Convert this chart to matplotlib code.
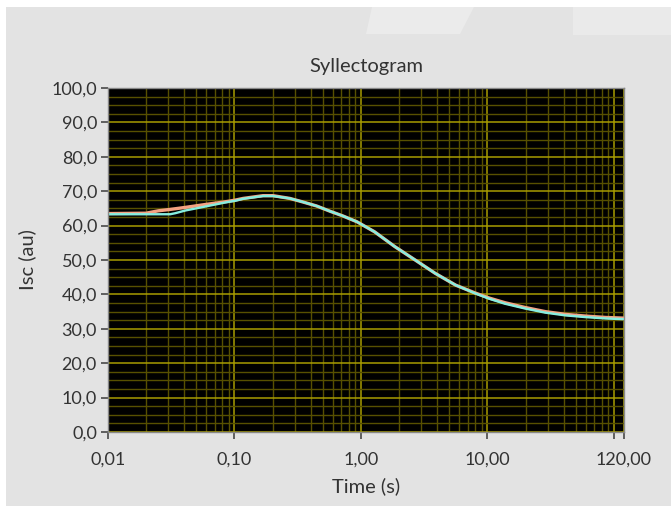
import numpy as np
import matplotlib
matplotlib.use('Agg')
import matplotlib.pyplot as plt
from matplotlib.ticker import FixedLocator, FixedFormatter, LogLocator, MultipleLocator
from matplotlib.patches import Rectangle, Polygon

plt.rcParams['font.family'] = ['Lato', 'DejaVu Sans']

# values
time_s = [0.01, 0.02, 0.025, 0.031, 0.034, 0.041, 0.058, 0.084, 0.101, 0.117,
          0.168, 0.202, 0.274, 0.345, 0.446, 0.567, 0.72, 0.93, 1.28, 1.85,
          2.68, 3.87, 5.6, 8.0, 10.4, 13.7, 19.8, 28.6, 41.3, 59.7, 86.2, 120.0]
isc_orange = [63.5, 63.6, 64.3, 64.7, 64.9, 65.3, 66.1, 66.9, 67.4, 67.9,
              68.7, 68.7, 67.9, 66.9, 65.7, 64.2, 62.8, 61.1, 58.2, 53.9,
              50.0, 46.1, 42.7, 40.4, 38.9, 37.6, 36.2, 35.0, 34.2, 33.7, 33.3, 33.1]
isc_cyan = [63.3, 63.3, 63.3, 63.3, 63.6, 64.4, 65.5, 66.7, 67.2, 67.8,
            68.6, 68.6, 67.9, 66.9, 65.7, 64.2, 62.8, 61.1, 58.2, 53.9,
            50.0, 46.1, 42.7, 40.3, 38.7, 37.3, 35.9, 34.7, 33.9, 33.4, 33.0, 32.8]

xticks = [0.01, 0.1, 1, 10, 100, 120]
xticklabels = ['0,01', '0,10', '1,00', '10,00', '', '120,00']
yticks = list(range(0, 101, 10))
yticklabels = [f'{v:.1f}'.replace('.', ',') for v in yticks]

fig = plt.figure(figsize=(6.71, 5.14), dpi=100)
fig.patch.set_facecolor('white')
# grey panel behind the chart
fig.patches.append(Rectangle((6/671, 1-506/514), 1, 499/514, transform=fig.transFigure,
                             facecolor='#e3e3e3', edgecolor='none', zorder=-10))
# faint light smudges at the top of the screenshot
fig.patches.append(Polygon([(366/671, 1-34/514), (372/671, 1-7/514), (474/671, 1-7/514),
                            (460/671, 1-34/514)], closed=True, transform=fig.transFigure,
                           facecolor='#ebebeb', edgecolor='none', zorder=-9))
fig.patches.append(Rectangle((573/671, 1-35/514), 98/671, 28/514, transform=fig.transFigure,
                             facecolor='#eaeaea', edgecolor='none', zorder=-9))

ax = fig.add_axes([108/671, 1-432/514, 516/671, 344/514])
ax.set_facecolor('black')
ax.set_xscale('log')
ax.set_xlim(0.01, 120)
ax.set_ylim(0, 100)

ax.plot(time_s, isc_orange, color='#f4a283', lw=2.4, solid_capstyle='butt', solid_joinstyle='round')
ax.plot(time_s, isc_cyan, color='#86eee0', lw=1.7, solid_capstyle='butt', solid_joinstyle='round')

# grid
ax.xaxis.set_minor_locator(LogLocator(base=10, subs=np.arange(2, 10)))
ax.yaxis.set_minor_locator(MultipleLocator(2.5))
ax.xaxis.set_major_locator(FixedLocator(xticks))
ax.xaxis.set_major_formatter(FixedFormatter(xticklabels))
ax.set_yticks(yticks)
ax.set_yticklabels(yticklabels)
ax.grid(True, which='major', color='#a89c00', lw=1.1)
ax.grid(True, which='minor', color='#575000', lw=1.0)
ax.tick_params(which='minor', length=0)
ax.tick_params(which='major', direction='out', length=5, width=1.3, color='#555555',
               labelsize=13, labelcolor='#333333')
ax.tick_params(axis='y', pad=3)
ax.tick_params(axis='x', pad=9)
ax.set_axisbelow(True)
for s in ax.spines.values():
    s.set_color('#888888')
    s.set_linewidth(1)

ax.set_title('Syllectogram', fontsize=14.5, color='#333333', pad=11.5)
ax.set_xlabel('Time (s)', fontsize=14.5, color='#333333', labelpad=7)
ax.set_ylabel('Isc (au)', fontsize=14.5, color='#333333', labelpad=11)

plt.savefig('out.png', dpi=100, facecolor=fig.get_facecolor())
